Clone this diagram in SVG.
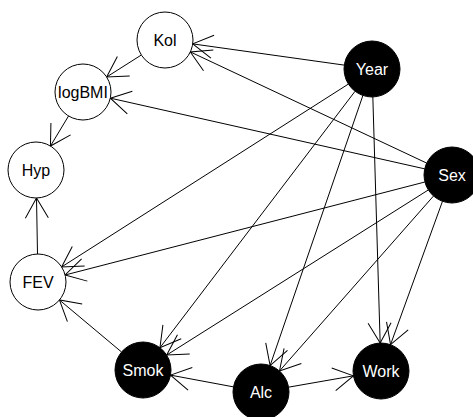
<svg xmlns="http://www.w3.org/2000/svg" width="473" height="417" viewBox="0 0 473 417">
<style>
.e{stroke:#000;stroke-width:1;fill:none;marker-end:url(#ah)}
.w circle{fill:#fff;stroke:#000;stroke-width:1}
.b circle{fill:#000;stroke:#000;stroke-width:1}
text{font-family:"Liberation Sans",Arial,sans-serif;font-size:16px;text-anchor:middle}
.w text{fill:#000}
.b text{fill:#fff}
</style>
<defs>
<marker id="ah" markerUnits="userSpaceOnUse" markerWidth="50" markerHeight="50" refX="0" refY="0" orient="auto" overflow="visible">
<path d="M-20,-11.5 L0,0 L-20,11.5" fill="none" stroke="#000" stroke-width="1"/>
</marker>
</defs>
<rect width="473" height="417" fill="#fff"/>
<g id="edges">
<line class="e" x1="344.27" y1="65.11" x2="192.73" y2="43.89"/>
<line class="e" x1="426.67" y1="163.08" x2="190.33" y2="51.92"/>
<line class="e" x1="141.35" y1="54.99" x2="106.65" y2="77.01"/>
<line class="e" x1="424.68" y1="168.85" x2="110.32" y2="98.15"/>
<line class="e" x1="68.55" y1="115.98" x2="50.45" y2="146.02"/>
<line class="e" x1="37.5" y1="254" x2="36.5" y2="198"/>
<line class="e" x1="348.39" y1="84.06" x2="61.61" y2="266.94"/>
<line class="e" x1="424.89" y1="182.01" x2="65.11" y2="274.99"/>
<line class="e" x1="121.54" y1="352.01" x2="59.46" y2="299.99"/>
<line class="e" x1="355.05" y1="91.28" x2="159.95" y2="347.72"/>
<line class="e" x1="428.32" y1="189.94" x2="166.68" y2="355.06"/>
<line class="e" x1="233.47" y1="386.87" x2="170.53" y2="375.13"/>
<line class="e" x1="362.9" y1="95.48" x2="270.1" y2="365.52"/>
<line class="e" x1="433.5" y1="196.02" x2="279.5" y2="370.98"/>
<line class="e" x1="288.59" y1="387.17" x2="353.41" y2="375.83"/>
<line class="e" x1="372.83" y1="96.99" x2="380.17" y2="343.01"/>
<line class="e" x1="442.47" y1="201.32" x2="390.53" y2="344.68"/>
</g>
<g id="Kol" class="w"><circle cx="165" cy="40" r="28"/><text x="165" y="45.5">Kol</text></g>
<g id="logBMI" class="w"><circle cx="83" cy="92" r="28"/><text x="83" y="97.5">logBMI</text></g>
<g id="Hyp" class="w"><circle cx="36" cy="170" r="28"/><text x="36" y="175.5">Hyp</text></g>
<g id="FEV" class="w"><circle cx="38" cy="282" r="28"/><text x="38" y="287.5">FEV</text></g>
<g id="Smok" class="b"><circle cx="143" cy="370" r="28"/><text x="143" y="375.5">Smok</text></g>
<g id="Alc" class="b"><circle cx="261" cy="392" r="28"/><text x="261" y="397.5">Alc</text></g>
<g id="Work" class="b"><circle cx="381" cy="371" r="28"/><text x="381" y="376.5">Work</text></g>
<g id="Year" class="b"><circle cx="372" cy="69" r="28"/><text x="372" y="74.5">Year</text></g>
<g id="Sex" class="b"><circle cx="452" cy="175" r="28"/><text x="452" y="180.5">Sex</text></g>
</svg>
